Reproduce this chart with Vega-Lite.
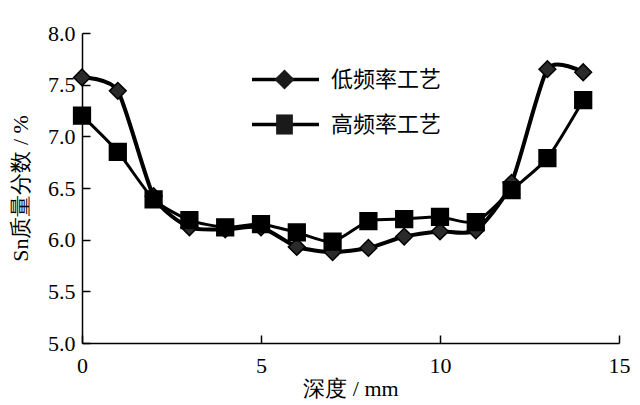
{
  "$schema": "https://vega.github.io/schema/vega-lite/v6.json",
  "width": 537,
  "height": 310,
  "autosize": "none",
  "padding": {"left": 82, "top": 33, "right": 21, "bottom": 62},
  "background": "white",
  "data": {
    "values": [
      {"depth": 0, "series": "低频率工艺", "value": 7.57},
      {"depth": 1, "series": "低频率工艺", "value": 7.44},
      {"depth": 2, "series": "低频率工艺", "value": 6.42},
      {"depth": 3, "series": "低频率工艺", "value": 6.12},
      {"depth": 4, "series": "低频率工艺", "value": 6.1},
      {"depth": 5, "series": "低频率工艺", "value": 6.12},
      {"depth": 6, "series": "低频率工艺", "value": 5.93},
      {"depth": 7, "series": "低频率工艺", "value": 5.88},
      {"depth": 8, "series": "低频率工艺", "value": 5.92},
      {"depth": 9, "series": "低频率工艺", "value": 6.03},
      {"depth": 10, "series": "低频率工艺", "value": 6.08},
      {"depth": 11, "series": "低频率工艺", "value": 6.09},
      {"depth": 12, "series": "低频率工艺", "value": 6.55},
      {"depth": 13, "series": "低频率工艺", "value": 7.65},
      {"depth": 14, "series": "低频率工艺", "value": 7.62},
      {"depth": 0, "series": "高频率工艺", "value": 7.2},
      {"depth": 1, "series": "高频率工艺", "value": 6.85},
      {"depth": 2, "series": "高频率工艺", "value": 6.39},
      {"depth": 3, "series": "高频率工艺", "value": 6.19},
      {"depth": 4, "series": "高频率工艺", "value": 6.12},
      {"depth": 5, "series": "高频率工艺", "value": 6.15},
      {"depth": 6, "series": "高频率工艺", "value": 6.07},
      {"depth": 7, "series": "高频率工艺", "value": 5.98},
      {"depth": 8, "series": "高频率工艺", "value": 6.18},
      {"depth": 9, "series": "高频率工艺", "value": 6.2},
      {"depth": 10, "series": "高频率工艺", "value": 6.22},
      {"depth": 11, "series": "高频率工艺", "value": 6.17},
      {"depth": 12, "series": "高频率工艺", "value": 6.48},
      {"depth": 13, "series": "高频率工艺", "value": 6.79},
      {"depth": 14, "series": "高频率工艺", "value": 7.35}
    ]
  },
  "encoding": {
    "x": {
      "field": "depth",
      "type": "quantitative",
      "scale": {"domain": [0, 15], "nice": false},
      "axis": {"values": [0, 5, 10, 15], "title": "深度 / mm"}
    },
    "y": {
      "field": "value",
      "type": "quantitative",
      "scale": {"domain": [5, 8], "nice": false, "zero": false},
      "axis": {"values": [5, 5.5, 6, 6.5, 7, 7.5, 8], "format": ".1f", "title": "Sn质量分数 / %"}
    }
  },
  "layer": [
    {
      "mark": {"type": "line", "interpolate": "cardinal", "tension": 0.35},
      "encoding": {
        "color": {
          "field": "series",
          "type": "nominal",
          "scale": {"range": ["black", "black"]},
          "legend": {
            "title": null,
            "orient": "none",
            "legendX": 168,
            "legendY": 24,
            "symbolType": "stroke",
            "symbolSize": 4489,
            "clipHeight": 45,
            "symbolStrokeWidth": 3.5,
            "symbolStrokeColor": "black",
            "labelFont": "Noto Sans CJK SC",
            "labelFontSize": 22,
            "labelColor": "black",
            "labelOffset": 10,
            "rowPadding": 0
          }
        },
        "strokeWidth": {
          "field": "series",
          "type": "nominal",
          "scale": {"domain": ["低频率工艺", "高频率工艺"], "range": [4, 3]},
          "legend": null
        }
      }
    },
    {
      "mark": {"type": "point", "filled": true, "opacity": 1, "stroke": "black", "strokeWidth": 1.5, "size": 4489},
      "encoding": {
        "shape": {
          "field": "series",
          "type": "nominal",
          "scale": {
            "domain": ["低频率工艺", "高频率工艺"],
            "range": [
              "M-0.25,0L0,-0.25L0.25,0L0,0.25Z",
              "M-0.25,-0.25L0.25,-0.25L0.25,0.25L-0.25,0.25Z"
            ]
          },
          "legend": null
        },
        "fill": {
          "field": "series",
          "type": "nominal",
          "scale": {"domain": ["低频率工艺", "高频率工艺"], "range": ["#2a2a2a", "black"]},
          "legend": null
        }
      }
    },
    {
      "transform": [{"filter": "datum.depth < 0"}],
      "mark": {"type": "point", "filled": true, "opacity": 1, "color": "#1a1a1a"},
      "encoding": {
        "shape": {
          "field": "series",
          "type": "nominal",
          "scale": {
            "domain": ["低频率工艺", "高频率工艺"],
            "range": [
              "M-0.3,0L0,-0.3L0.3,0L0,0.3Z",
              "M-0.25,-0.3L0.25,-0.3L0.25,0.3L-0.25,0.3Z"
            ]
          },
          "legend": {
            "title": null,
            "orient": "none",
            "legendX": 168,
            "legendY": 24,
            "symbolSize": 4489,
            "clipHeight": 45,
            "symbolFillColor": "#1a1a1a",
            "symbolOpacity": 1,
            "labelExpr": "''",
            "labelFontSize": 22,
            "labelOffset": 10,
            "rowPadding": 0
          }
        }
      }
    }
  ],
  "resolve": {"scale": {"shape": "independent"}},
  "config": {
    "view": {"stroke": null},
    "font": "Liberation Serif",
    "axis": {
      "grid": false,
      "domainColor": "black",
      "domainWidth": 1.5,
      "tickColor": "black",
      "tickWidth": 1.5,
      "tickSize": -8,
      "labelFlush": false,
      "labelFont": "Liberation Serif",
      "labelFontSize": 22,
      "labelColor": "black",
      "titleFont": "Liberation Serif",
      "titleFontSize": 22,
      "titleFontWeight": "normal",
      "titleColor": "black"
    },
    "axisX": {"labelPadding": 20, "titlePadding": 2},
    "axisY": {"labelPadding": 15, "titlePadding": 15}
  }
}
